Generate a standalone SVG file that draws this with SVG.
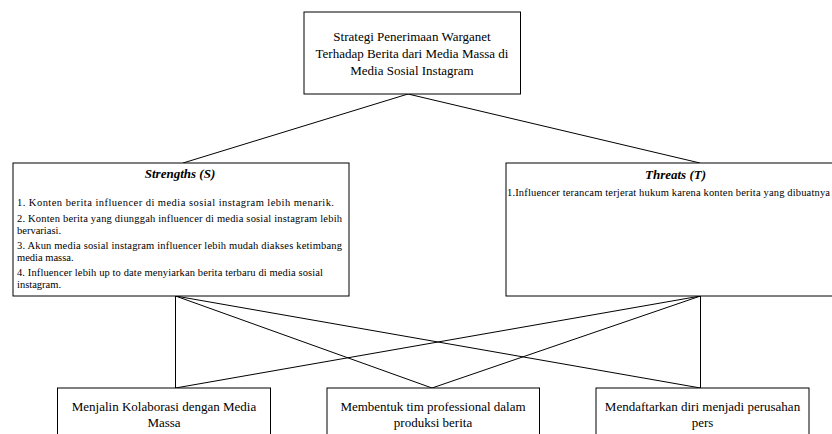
<svg xmlns="http://www.w3.org/2000/svg" width="832" height="434" viewBox="0 0 832 434">
<style>
.box{fill:#fff;stroke:#000;stroke-width:1}
.t{font-family:"Liberation Serif","Times New Roman",serif;fill:#000}
.c{text-anchor:middle;font-size:13px}
.s{font-size:10.5px}
.h{font-size:13px;font-weight:bold;font-style:italic;text-anchor:middle}
.ln{stroke:#000;stroke-width:1;fill:none}
</style>
<rect width="832" height="434" fill="#fff"/>
<g id="connectors">
<line class="ln" x1="408" y1="94" x2="183" y2="163"/>
<line class="ln" x1="408" y1="94" x2="700" y2="163"/>
<line class="ln" x1="175.5" y1="296" x2="175.5" y2="388"/>
<line class="ln" x1="175.5" y1="296" x2="432" y2="388"/>
<line class="ln" x1="175.5" y1="296" x2="700.5" y2="388"/>
<line class="ln" x1="700.5" y1="296" x2="175.5" y2="388"/>
<line class="ln" x1="700.5" y1="296" x2="432" y2="388"/>
<line class="ln" x1="700.5" y1="296" x2="700.5" y2="388"/>
</g>
<g id="root">
<rect class="box" x="304" y="12" width="216.5" height="82"/>
<text class="t c" x="412" y="41">Strategi Penerimaan Warganet</text>
<text class="t c" x="412" y="58">Terhadap Berita dari Media Massa di</text>
<text class="t c" x="412" y="74.5">Media Sosial Instagram</text>
</g>
<g id="strengths">
<rect class="box" x="13" y="163" width="336" height="133"/>
<text class="t h" x="180" y="178">Strengths (S)</text>
<text class="t s" x="17" y="205.5" textLength="317" lengthAdjust="spacing">1. Konten berita influencer di media sosial instagram lebih menarik.</text>
<text class="t s" x="17" y="221.5" textLength="325" lengthAdjust="spacing">2. Konten berita yang diunggah influencer di media sosial instagram lebih</text>
<text class="t s" x="17" y="233.5">bervariasi.</text>
<text class="t s" x="17" y="248.5" textLength="325" lengthAdjust="spacing">3. Akun media sosial instagram influencer lebih mudah diakses ketimbang</text>
<text class="t s" x="17" y="260.5">media massa.</text>
<text class="t s" x="17" y="275.5" textLength="306" lengthAdjust="spacing">4. Influencer lebih up to date menyiarkan berita terbaru di media sosial</text>
<text class="t s" x="17" y="288">instagram.</text>
</g>
<g id="threats">
<rect class="box" x="506" y="163" width="339" height="133"/>
<text class="t h" x="675.5" y="179">Threats (T)</text>
<text class="t s" x="507" y="196" textLength="323" lengthAdjust="spacing">1.Influencer terancam terjerat hukum karena konten berita yang dibuatnya</text>
</g>
<g id="opt1">
<rect class="box" x="57.5" y="388" width="213" height="60"/>
<text class="t c" x="164" y="411">Menjalin Kolaborasi dengan Media</text>
<text class="t c" x="164" y="427">Massa</text>
</g>
<g id="opt2">
<rect class="box" x="327" y="388" width="212.5" height="60"/>
<text class="t c" x="433" y="411">Membentuk tim professional dalam</text>
<text class="t c" x="433" y="427">produksi berita</text>
</g>
<g id="opt3">
<rect class="box" x="596" y="388" width="213" height="60"/>
<text class="t c" x="702.5" y="411">Mendaftarkan diri menjadi perusahan</text>
<text class="t c" x="702.5" y="427">pers</text>
</g>
</svg>
